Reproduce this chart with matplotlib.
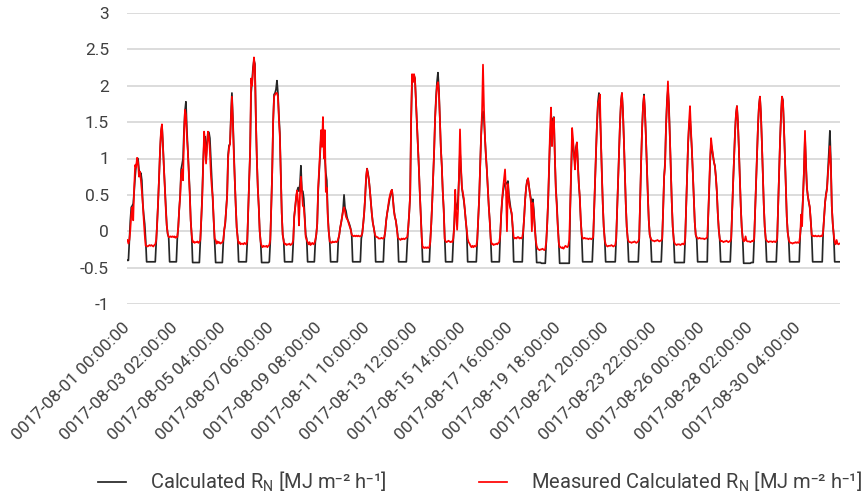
import numpy as np
import matplotlib
matplotlib.use('Agg')
import matplotlib.pyplot as plt

#hourly values per day (h0..h23), August 1..31
calc_by_day = [
    [-0.40,-0.40,-0.12,0.15,0.33,0.35,0.38,0.55,0.75,0.90,0.95,1.00,0.85,0.78,0.80,0.70,0.38,0.22,0.10,-0.12,-0.42,-0.42,-0.42,-0.42],
    [-0.42,-0.42,-0.42,-0.42,-0.42,-0.42,-0.15,0.10,0.40,0.75,1.10,1.35,1.46,1.20,0.88,0.62,0.33,0.08,-0.04,-0.08,-0.42,-0.42,-0.42,-0.42],
    [-0.42,-0.42,-0.42,-0.42,-0.10,0.06,0.30,0.50,0.85,0.92,1.00,1.39,1.65,1.78,1.40,1.12,0.85,0.55,0.15,-0.05,-0.43,-0.43,-0.43,-0.43],
    [-0.43,-0.43,-0.43,-0.43,-0.15,0.15,0.50,0.95,1.25,1.30,1.00,1.20,1.36,1.36,1.28,1.00,0.70,0.45,0.15,-0.12,-0.43,-0.43,-0.43,-0.43],
    [-0.43,-0.43,-0.43,-0.43,-0.15,0.02,0.10,0.30,0.50,1.05,1.18,1.20,1.60,1.90,1.55,1.10,0.70,0.35,0.05,-0.08,-0.42,-0.42,-0.42,-0.42],
    [-0.42,-0.42,-0.42,-0.42,-0.42,-0.15,0.30,0.70,1.10,1.90,2.05,2.25,2.35,2.30,1.54,1.00,0.60,0.34,0.00,-0.15,-0.43,-0.43,-0.43,-0.43],
    [-0.43,-0.43,-0.43,-0.43,-0.42,-0.15,0.30,0.80,1.50,1.88,1.90,1.95,2.07,1.90,1.60,1.35,0.80,0.25,-0.05,-0.12,-0.42,-0.42,-0.42,-0.42],
    [-0.42,-0.42,-0.42,-0.42,-0.42,-0.15,0.20,0.33,0.45,0.55,0.60,0.55,0.65,0.90,0.56,0.55,0.45,0.20,-0.05,-0.10,-0.42,-0.42,-0.42,-0.42],
    [-0.42,-0.42,-0.42,-0.42,-0.15,-0.05,0.10,0.55,0.80,1.05,1.30,1.38,1.40,1.25,1.00,0.80,0.70,0.25,0.00,-0.12,-0.42,-0.42,-0.42,-0.42],
    [-0.42,-0.42,-0.42,-0.42,-0.12,-0.05,0.05,0.12,0.20,0.30,0.50,0.32,0.28,0.20,0.15,0.12,0.08,0.03,-0.05,-0.42,-0.42,-0.42,-0.42,-0.42],
    [-0.42,-0.42,-0.42,-0.42,-0.10,-0.03,0.10,0.25,0.45,0.72,0.86,0.80,0.70,0.56,0.40,0.24,0.12,0.05,-0.03,-0.42,-0.42,-0.42,-0.42,-0.42],
    [-0.42,-0.42,-0.42,-0.42,-0.10,0.00,0.15,0.25,0.32,0.40,0.47,0.53,0.57,0.45,0.30,0.20,0.15,0.05,-0.05,-0.42,-0.42,-0.42,-0.42,-0.42],
    [-0.42,-0.42,-0.42,-0.42,-0.15,0.05,0.25,0.50,1.50,2.10,2.15,2.14,2.10,1.80,1.50,1.20,0.90,0.55,0.25,-0.05,-0.42,-0.42,-0.42,-0.42],
    [-0.42,-0.42,-0.42,-0.42,-0.12,0.10,0.40,0.75,1.10,1.55,1.85,2.05,2.18,1.95,1.55,1.15,0.90,0.55,0.30,-0.05,-0.42,-0.42,-0.42,-0.42],
    [-0.42,-0.42,-0.42,-0.42,-0.12,0.10,0.40,0.35,0.30,0.45,0.75,1.10,0.85,0.60,0.50,0.42,0.30,0.15,0.00,-0.42,-0.42,-0.42,-0.42,-0.42],
    [-0.42,-0.42,-0.42,-0.42,-0.42,-0.12,0.15,0.45,0.90,1.30,1.55,1.65,1.55,1.30,1.05,0.85,0.60,0.35,0.15,-0.10,-0.42,-0.42,-0.42,-0.42],
    [-0.42,-0.42,-0.42,-0.42,-0.42,-0.05,0.22,0.42,0.55,0.62,0.66,0.67,0.65,0.69,0.50,0.40,0.30,0.22,0.05,-0.42,-0.42,-0.42,-0.42,-0.42],
    [-0.42,-0.42,-0.42,-0.42,-0.42,0.00,0.20,0.44,0.60,0.70,0.72,0.62,0.52,0.45,0.40,0.44,0.30,0.08,-0.10,-0.43,-0.43,-0.43,-0.43,-0.43],
    [-0.44,-0.44,-0.44,-0.44,-0.44,-0.15,0.10,0.42,0.85,1.30,1.45,1.50,1.55,1.57,1.00,0.60,0.39,0.10,-0.12,-0.44,-0.44,-0.44,-0.44,-0.44],
    [-0.44,-0.44,-0.44,-0.44,-0.44,-0.44,0.30,0.80,1.22,1.20,1.05,0.95,1.15,1.22,0.95,0.65,0.45,0.15,-0.05,-0.42,-0.42,-0.42,-0.42,-0.42],
    [-0.42,-0.42,-0.42,-0.42,-0.42,-0.42,-0.10,0.30,0.74,1.14,1.50,1.78,1.90,1.66,1.26,0.80,0.38,0.06,-0.10,-0.42,-0.42,-0.42,-0.42,-0.42],
    [-0.42,-0.42,-0.42,-0.42,-0.42,-0.42,-0.10,0.30,0.74,1.14,1.50,1.78,1.90,1.66,1.26,0.80,0.38,0.06,-0.10,-0.42,-0.42,-0.42,-0.42,-0.42],
    [-0.42,-0.42,-0.42,-0.42,-0.42,-0.42,-0.10,0.45,0.95,1.40,1.72,1.88,1.65,1.30,0.90,0.50,0.15,-0.05,-0.10,-0.42,-0.42,-0.42,-0.42,-0.42],
    [-0.42,-0.42,-0.42,-0.42,-0.42,-0.42,-0.10,0.30,0.75,0.95,1.45,1.80,1.95,1.75,1.30,0.85,0.40,0.06,-0.10,-0.43,-0.43,-0.43,-0.43,-0.43],
    [-0.43,-0.43,-0.43,-0.43,-0.43,-0.43,-0.10,0.35,0.80,1.20,1.45,1.55,1.35,1.10,0.80,0.45,0.12,-0.05,-0.10,-0.42,-0.42,-0.42,-0.42,-0.42],
    [-0.42,-0.42,-0.42,-0.42,-0.42,-0.42,0.20,0.55,0.95,1.20,1.12,1.03,0.95,0.90,0.75,0.55,0.25,0.03,-0.10,-0.42,-0.42,-0.42,-0.42,-0.42],
    [-0.42,-0.42,-0.42,-0.42,-0.42,-0.42,-0.10,0.26,0.66,1.03,1.36,1.61,1.72,1.50,1.14,0.72,0.34,0.05,-0.10,-0.44,-0.44,-0.44,-0.44,-0.44],
    [-0.44,-0.44,-0.44,-0.43,-0.43,-0.43,-0.10,0.29,0.72,1.11,1.46,1.73,1.85,1.62,1.23,0.78,0.37,0.06,-0.10,-0.42,-0.42,-0.42,-0.42,-0.42],
    [-0.42,-0.42,-0.42,-0.42,-0.42,-0.42,-0.10,0.35,0.82,1.25,1.60,1.85,1.80,1.45,1.05,0.60,0.20,-0.02,-0.10,-0.42,-0.42,-0.42,-0.42,-0.42],
    [-0.42,-0.42,-0.42,-0.42,-0.42,-0.42,-0.05,0.10,0.25,0.48,0.85,1.30,0.95,0.60,0.48,0.40,0.32,0.15,-0.05,-0.42,-0.42,-0.42,-0.42,-0.42],
    [-0.42,-0.42,-0.42,-0.42,-0.42,-0.42,0.00,0.20,0.40,0.52,0.60,0.85,1.10,1.38,0.95,0.34,0.10,-0.05,-0.42,-0.42,-0.42,-0.42,-0.42,-0.42],
]

meas_by_day = [
    [-0.12,-0.17,-0.12,0.02,0.24,0.33,0.15,0.60,0.91,0.88,1.01,0.95,0.75,0.82,0.70,0.55,0.38,0.15,-0.05,-0.20,-0.20,-0.21,-0.20,-0.19],
    [-0.20,-0.19,-0.20,-0.21,-0.19,-0.18,-0.12,0.10,0.42,0.74,1.12,1.38,1.47,1.18,0.86,0.60,0.30,0.08,-0.03,-0.08,-0.08,-0.07,-0.08,-0.07],
    [-0.08,-0.07,-0.09,-0.08,-0.08,0.05,0.30,0.48,0.78,0.85,0.70,1.30,1.67,1.60,1.30,1.10,0.80,0.50,0.15,-0.05,-0.15,-0.14,-0.16,-0.15],
    [-0.15,-0.14,-0.16,-0.15,-0.12,0.15,0.45,0.90,1.37,1.20,0.93,1.15,1.37,1.30,1.10,0.79,0.60,0.47,0.15,-0.10,-0.12,-0.17,-0.14,-0.16],
    [-0.15,-0.17,-0.16,-0.15,-0.12,0.02,0.12,0.30,0.48,1.00,1.15,1.20,1.55,1.85,1.50,1.05,0.70,0.35,0.05,-0.10,-0.17,-0.15,-0.18,-0.17],
    [-0.17,-0.18,-0.16,-0.17,-0.18,-0.12,0.30,0.70,1.10,2.10,2.00,2.20,2.39,2.25,1.54,1.00,0.60,0.34,0.00,-0.15,-0.20,-0.22,-0.20,-0.21],
    [-0.21,-0.20,-0.22,-0.20,-0.19,-0.12,0.30,0.80,1.50,1.85,1.88,1.90,1.90,1.85,1.55,1.30,0.80,0.25,-0.05,-0.14,-0.18,-0.17,-0.19,-0.18],
    [-0.18,-0.17,-0.19,-0.18,-0.17,-0.12,0.20,0.33,0.48,0.56,0.40,0.08,0.50,0.75,0.56,0.35,0.33,0.15,-0.08,-0.12,-0.15,-0.18,-0.15,-0.19],
    [-0.17,-0.16,-0.18,-0.17,-0.12,-0.05,0.10,0.60,0.84,1.10,1.39,1.16,1.57,1.00,1.39,0.54,0.60,0.20,0.00,-0.14,-0.15,-0.16,-0.14,-0.15],
    [-0.15,-0.14,-0.15,-0.14,-0.10,-0.05,0.05,0.12,0.20,0.28,0.33,0.27,0.20,0.17,0.15,0.10,0.06,0.02,-0.05,-0.06,-0.07,-0.06,-0.07,-0.06],
    [-0.07,-0.06,-0.07,-0.07,-0.06,-0.03,0.10,0.25,0.47,0.75,0.86,0.78,0.70,0.56,0.40,0.24,0.12,0.05,-0.03,-0.07,-0.08,-0.08,-0.10,-0.10],
    [-0.10,-0.09,-0.10,-0.10,-0.08,0.00,0.15,0.25,0.34,0.44,0.50,0.55,0.57,0.45,0.28,0.20,0.15,0.05,-0.08,-0.10,-0.11,-0.12,-0.10,-0.11],
    [-0.10,-0.11,-0.10,-0.09,-0.08,0.05,0.25,0.50,1.55,2.16,2.05,2.16,2.10,1.80,1.50,1.20,0.90,0.55,0.25,-0.08,-0.23,-0.22,-0.23,-0.22],
    [-0.23,-0.22,-0.23,-0.22,-0.15,0.10,0.40,0.75,1.10,1.55,1.80,2.00,2.05,1.90,1.55,1.15,0.90,0.55,0.30,-0.10,-0.14,-0.15,-0.14,-0.13],
    [-0.14,-0.15,-0.14,-0.15,-0.10,0.07,0.57,0.25,0.02,0.30,0.80,1.40,0.90,0.60,0.53,0.45,0.30,0.15,0.02,-0.10,-0.15,-0.17,-0.20,-0.22],
    [-0.20,-0.22,-0.20,-0.21,-0.20,-0.12,0.15,0.45,0.90,1.30,1.65,2.29,1.70,1.30,1.05,0.85,0.60,0.35,0.15,-0.10,-0.18,-0.17,-0.19,-0.18],
    [-0.18,-0.17,-0.18,-0.16,-0.15,-0.05,0.25,0.45,0.60,0.72,0.85,0.55,0.00,0.65,0.45,0.34,0.30,0.25,0.05,-0.08,-0.10,-0.09,-0.10,-0.08],
    [-0.08,-0.10,-0.09,-0.10,-0.08,0.00,0.20,0.44,0.60,0.68,0.73,0.62,0.50,0.40,0.00,0.39,0.25,0.05,-0.12,-0.20,-0.24,-0.25,-0.26,-0.25],
    [-0.25,-0.24,-0.25,-0.26,-0.24,-0.15,0.10,0.44,0.90,1.40,1.70,1.17,1.49,1.56,1.03,0.57,0.34,0.07,-0.15,-0.22,-0.22,-0.23,-0.22,-0.24],
    [-0.22,-0.20,-0.21,-0.22,-0.20,-0.12,0.34,0.90,1.42,1.26,1.03,0.85,1.12,1.22,0.90,0.65,0.48,0.16,-0.05,-0.10,-0.10,-0.09,-0.10,-0.10],
    [-0.10,-0.11,-0.10,-0.10,-0.11,-0.10,-0.08,0.30,0.73,1.13,1.48,1.76,1.80,1.88,1.30,0.79,0.38,0.06,-0.12,-0.18,-0.20,-0.21,-0.20,-0.20],
    [-0.20,-0.19,-0.20,-0.21,-0.20,-0.19,-0.10,0.30,0.74,1.14,1.50,1.78,1.90,1.66,1.26,0.80,0.38,0.06,-0.10,-0.14,-0.15,-0.15,-0.16,-0.15],
    [-0.15,-0.14,-0.15,-0.16,-0.15,-0.14,-0.10,0.45,0.95,1.40,1.72,1.86,1.65,1.30,0.90,0.50,0.15,-0.05,-0.10,-0.12,-0.13,-0.13,-0.14,-0.13],
    [-0.13,-0.12,-0.13,-0.14,-0.13,-0.13,-0.10,0.30,0.75,0.90,1.45,1.75,2.06,1.70,1.30,0.85,0.40,0.06,-0.12,-0.17,-0.18,-0.19,-0.18,-0.18],
    [-0.18,-0.19,-0.18,-0.17,-0.18,-0.18,-0.10,0.35,0.80,1.20,1.50,1.72,1.40,1.12,0.80,0.45,0.12,-0.05,-0.08,-0.10,-0.10,-0.09,-0.10,-0.10],
    [-0.10,-0.10,-0.11,-0.10,-0.10,-0.08,0.20,0.60,1.00,1.28,1.15,1.05,0.95,0.89,0.75,0.55,0.25,0.03,-0.10,-0.14,-0.13,-0.14,-0.15,-0.14],
    [-0.14,-0.13,-0.14,-0.15,-0.14,-0.14,-0.10,0.26,0.66,1.03,1.36,1.61,1.72,1.50,1.14,0.72,0.34,0.05,-0.10,-0.14,-0.13,-0.07,-0.13,-0.14],
    [-0.14,-0.14,-0.15,-0.14,-0.13,-0.14,-0.10,0.29,0.72,1.11,1.46,1.73,1.85,1.62,1.23,0.78,0.37,0.06,-0.10,-0.13,-0.14,-0.15,-0.14,-0.14],
    [-0.14,-0.15,-0.14,-0.14,-0.15,-0.14,-0.10,0.35,0.82,1.25,1.60,1.85,1.78,1.45,1.05,0.60,0.20,-0.02,-0.12,-0.15,-0.16,-0.16,-0.17,-0.16],
    [-0.16,-0.15,-0.16,-0.15,-0.16,-0.15,-0.05,0.23,0.07,0.50,0.85,1.38,0.90,0.60,0.48,0.40,0.34,0.15,-0.05,-0.07,-0.06,-0.07,-0.06,-0.07],
    [-0.07,-0.06,-0.07,-0.07,-0.06,-0.07,0.00,0.20,0.40,0.50,0.57,0.80,0.95,1.17,0.90,0.34,0.10,-0.05,-0.15,-0.18,-0.12,-0.17,-0.18,-0.17],
]

xtick_labels = ['0017-08-01 00:00:00','0017-08-03 02:00:00','0017-08-05 04:00:00','0017-08-07 06:00:00',
                '0017-08-09 08:00:00','0017-08-11 10:00:00','0017-08-13 12:00:00','0017-08-15 14:00:00',
                '0017-08-17 16:00:00','0017-08-19 18:00:00','0017-08-21 20:00:00','0017-08-23 22:00:00',
                '0017-08-26 00:00:00','0017-08-28 02:00:00','0017-08-30 04:00:00']
ytick_values = [-1,-0.5,0,0.5,1,1.5,2,2.5,3]
ytick_labels = ['-1','-0.5','0','0.5','1','1.5','2','2.5','3']

calc=np.concatenate([np.array(d) for d in calc_by_day])
meas=np.concatenate([np.array(d) for d in meas_by_day])
hours=np.arange(len(calc))

plt.rcParams['font.family']=['Roboto','DejaVu Sans']
textcol='#404040'

fig=plt.figure(figsize=(8.68,5.0),dpi=100)
ax=fig.add_axes([0.1463,0.392,0.8214,0.582])

#superscripts as unicode so they keep the short hyphen look, subscript through mathtext
ax.plot(hours,calc,color='#262626',lw=1.25,label='Calculated R$_\\mathregular{N}$ [MJ m\u207b\u00b2 h\u207b\u00b9]')
ax.plot(hours,meas,color='#ff0000',lw=1.25,label='Measured Calculated R$_\\mathregular{N}$ [MJ m\u207b\u00b2 h\u207b\u00b9]')

ax.set_xlim(-0.5,len(calc)-0.5)
ax.set_ylim(-1,3)
ax.set_yticks(ytick_values)
ax.set_yticklabels(ytick_labels)
ax.set_xticks(np.arange(len(xtick_labels))*50)
ax.set_xticklabels(xtick_labels,rotation=45,ha='right',va='center',rotation_mode='anchor')

ax.grid(axis='y',color='#d9d9d9',lw=1.3)
ax.set_axisbelow(True)
for s in ax.spines.values():
    s.set_visible(False)
ax.tick_params(axis='both',length=0,labelsize=12.5,colors=textcol)
ax.tick_params(axis='y',pad=13)
ax.tick_params(axis='x',pad=15)

fig.legend(loc='center',bbox_to_anchor=(0.553,0.036),ncol=2,frameon=False,fontsize=14.5,
           handlelength=1.4,handletextpad=1.2,columnspacing=4.6,labelcolor=textcol)

fig.savefig('out.png',dpi=100)
